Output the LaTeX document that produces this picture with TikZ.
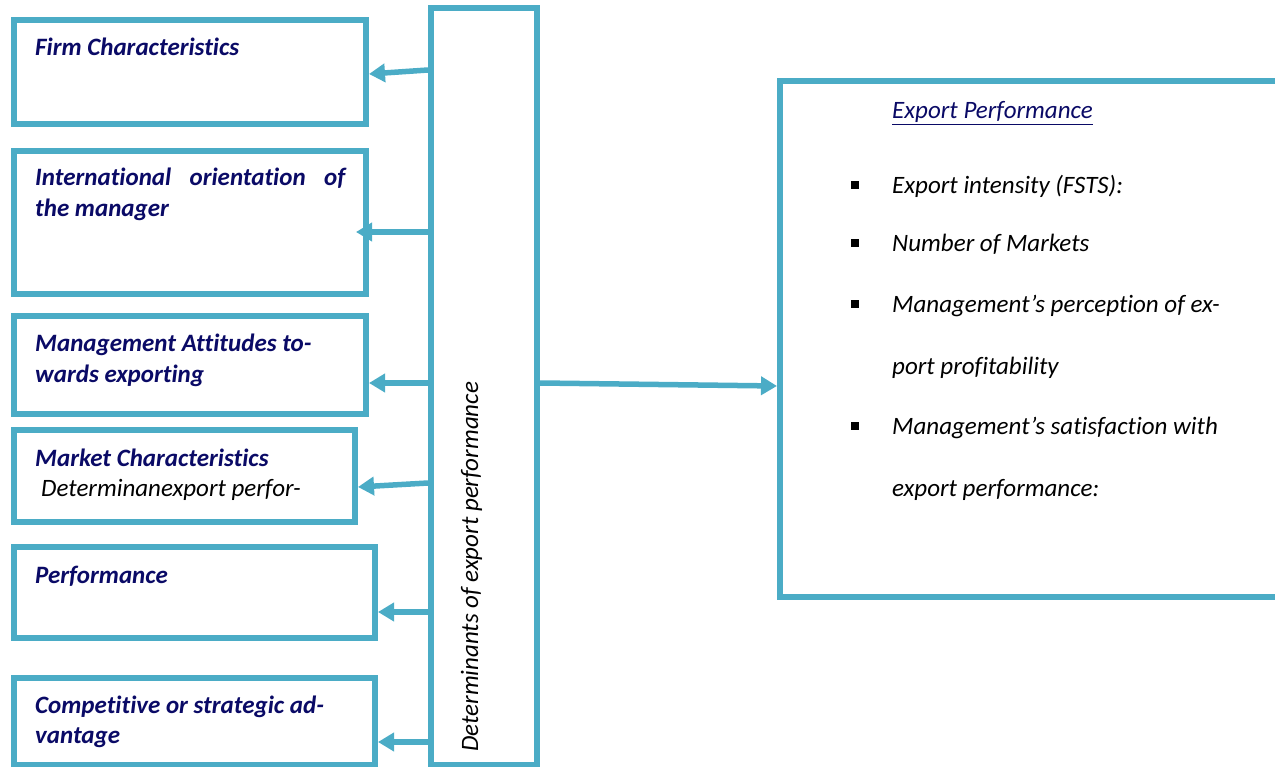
\documentclass[tikz,border=0pt]{standalone}
\usepackage{fontspec}
\setmainfont{Carlito}[Ligatures=NoCommon]
\usetikzlibrary{arrows.meta,calc}
\definecolor{bord}{RGB}{75,172,198}
\definecolor{navy}{RGB}{10,10,102}
\begin{document}
\begin{tikzpicture}[x=1pt,y=-1pt,
  box/.style={draw=bord,line width=6pt,inner sep=0pt,fill=white},
  arr/.style={draw=bord,line width=5.5pt,-{Triangle[length=16pt,width=18pt]}},
  ttl/.style={anchor=base west,inner sep=0pt,text=navy,font=\fontsize{25}{30}\selectfont\bfseries\itshape},
  txt/.style={anchor=base west,inner sep=0pt,text=black,font=\fontsize{25}{30}\selectfont\itshape},
  bul/.style={fill=black,inner sep=0pt,minimum size=7.5pt}]
\useasboundingbox (0,0) rectangle (1275,767);
% boxes
\node[box,minimum width=352pt,minimum height=104pt] (B1) at (190,72) {};
\node[box,minimum width=352pt,minimum height=143pt] (B2) at (190,222.5) {};
\node[box,minimum width=352pt,minimum height=98pt] (B3) at (190,365) {};
\node[box,minimum width=341pt,minimum height=92pt] (B4) at (184.5,476) {};
\node[box,minimum width=361pt,minimum height=91pt] (B5) at (194.5,592.5) {};
\node[box,minimum width=361pt,minimum height=87pt] (B6) at (194.5,721.5) {};
\node[box,minimum width=106pt,minimum height=757pt] (C) at (484,386.5) {};
\node[box,minimum width=498pt,minimum height=516pt] (R) at (1029,339) {};
% connectors
\draw[arr] (C.west |- 0,70) -- (B1.east |- 0,74);
\draw[arr] (C.west |- 0,232) -- ($(B2.east |- 0,232)-(13,0)$);
\draw[arr] (C.west |- 0,383) -- (B3.east |- 0,383);
\draw[arr] (C.west |- 0,483) -- (B4.east |- 0,487);
\draw[arr] (C.west |- 0,612) -- (B5.east |- 0,612);
\draw[arr] (C.west |- 0,742) -- (B6.east |- 0,742);
\draw[arr] (C.east |- 0,383) -- (R.west |- 0,386);
% left texts
\node[ttl] (t1) at (35,56) {Firm Characteristics};
\node[ttl] (t2a) at (35,186) {\makebox[310pt][s]{International orientation of}};
\node[ttl] (t2b) at (35,217) {the manager};
\node[ttl] (t3a) at (35,352) {Management Attitudes to-};
\node[ttl] (t3b) at (35,382) {wards exporting};
\node[ttl] (t4a) at (35,466) {Market Characteristics};
\node[txt] (t4b) at (41,496) {Determinanexport perfor-};
\node[ttl] (t5) at (35,583) {Performance};
\node[ttl] (t6a) at (35,713) {Competitive or strategic ad-};
\node[ttl] (t6b) at (35,743) {vantage};
% vertical text
\node[txt,rotate=90] (tc) at (478,752) {Determinants of export performance};
% right box
\node[txt,text=navy] (rt) at (892,119) {\underline{Export Performance}};
\node[bul] (b1) at (855,185) {};
\node[bul] (b2) at (855,243) {};
\node[bul] (b3) at (855,304) {};
\node[bul] (b4) at (855,426) {};
\node[txt] (r1) at (892,194) {Export intensity (FSTS):};
\node[txt] (r2) at (892,252) {Number of Markets};
\node[txt] (r3) at (892,313) {Management’s perception of ex-};
\node[txt] (r4) at (892,374) {port profitability};
\node[txt] (r5) at (892,435) {Management’s satisfaction with};
\node[txt] (r6) at (892,496) {export performance:};
\end{tikzpicture}
\end{document}
